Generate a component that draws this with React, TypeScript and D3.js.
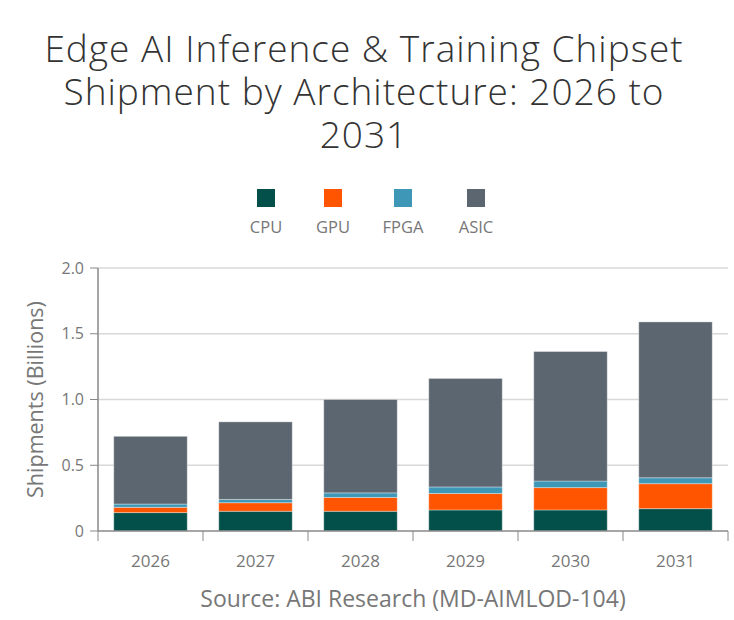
import React from 'react';
import * as d3 from 'd3';

const years = ['2026', '2027', '2028', '2029', '2030', '2031'];
const seriesNames = ['CPU', 'GPU', 'FPGA', 'ASIC'];
const cpu = [0.14, 0.15, 0.15, 0.16, 0.16, 0.17];
const gpu = [0.04, 0.065, 0.105, 0.125, 0.17, 0.19];
const fpga = [0.025, 0.025, 0.035, 0.05, 0.05, 0.045];
const asic = [0.515, 0.59, 0.71, 0.825, 0.985, 1.185];
const yTicks = [0, 0.5, 1.0, 1.5, 2.0];
const colors = ['#03504a', '#ff5500', '#3f97b7', '#5c6670'];

const width = 734;
const height = 620;
const margin = { top: 268, right: 6, bottom: 89, left: 98 };
const font = '"Open Sans", "Segoe UI", sans-serif';
const grey = '#777';

const App = () => {
  const innerWidth = width - margin.left - margin.right;
  const innerHeight = height - margin.top - margin.bottom;

  const rows = years.map((year, i) => ({
    year,
    CPU: cpu[i],
    GPU: gpu[i],
    FPGA: fpga[i],
    ASIC: asic[i],
  }));
  const stacked = d3.stack().keys(seriesNames)(rows);

  const xScale = d3.scaleBand()
    .domain(years)
    .range([0, innerWidth])
    .paddingInner(0.3)
    .paddingOuter(0.15);

  const yScale = d3.scaleLinear()
    .domain([0, 2])
    .range([innerHeight, 0]);

  // category separators on the x axis
  const boundaries = years.map((_, i) => xScale.step() * i).concat([innerWidth]);

  const titleLines = ['Edge AI Inference & Training Chipset', 'Shipment by Architecture: 2026 to', '2031'];
  const legendX = [266, 333, 403, 476];

  return (
    <svg width={width} height={height} style={{ position: 'absolute', left: 0, top: 0, fontFamily: font }}>
      <rect width={width} height={height} fill="#fff" />
      {titleLines.map((line, i) => (
        <text
          key={line}
          x={364}
          y={62 + i * 43}
          textAnchor="middle"
          fontSize={37}
          fontWeight={300}
          letterSpacing={1}
          fill="#333"
        >
          {line}
        </text>
      ))}

      {seriesNames.map((name, i) => (
        <g key={name} transform={`translate(${legendX[i]}, 0)`}>
          <rect x={-9} y={189} width={18} height={18} fill={colors[i]} />
          <text y={233} textAnchor="middle" fontSize={16.5} fill={grey}>{name}</text>
        </g>
      ))}

      <g transform={`translate(${margin.left}, ${margin.top})`}>
        {yTicks.map(tick => (
          <g key={tick} transform={`translate(0, ${yScale(tick)})`}>
            {tick > 0 && <line x2={innerWidth} stroke="#d8d8d8" strokeWidth={1.5} />}
            <line x1={-8} x2={0} stroke="#888" />
            <text x={-14} dy="0.35em" textAnchor="end" fontSize={16} fill={grey}>
              {tick === 0 ? '0' : tick.toFixed(1)}
            </text>
          </g>
        ))}

        {stacked.map((series, si) => (
          <g key={series.key} fill={colors[si]}>
            {series.map((d, i) => (
              <rect
                key={years[i]}
                x={xScale(years[i])}
                y={yScale(d[1])}
                width={xScale.bandwidth()}
                height={yScale(d[0]) - yScale(d[1])}
                stroke="#ffffff"
                strokeOpacity={0.35}
                strokeWidth={1}
              />
            ))}
          </g>
        ))}

        <line y1={0} y2={innerHeight} stroke="#888" strokeWidth={1.5} />
        <line x1={0} x2={innerWidth} y1={innerHeight} y2={innerHeight} stroke="#888" strokeWidth={1.5} />
        {boundaries.map(b => (
          <line key={b} x1={b} x2={b} y1={innerHeight} y2={innerHeight + 10} stroke="#888" />
        ))}
        {years.map(year => (
          <text
            key={year}
            x={(xScale(year) || 0) + xScale.bandwidth() / 2}
            y={innerHeight + 36}
            textAnchor="middle"
            fontSize={17}
            fill={grey}
          >
            {year}
          </text>
        ))}

        <text x={innerWidth / 2} y={innerHeight + 76} textAnchor="middle" fontSize={23} fill={grey}>
          Source: ABI Research (MD-AIMLOD-104)
        </text>
      </g>

      <text
        transform={`translate(43, ${margin.top + innerHeight / 2}) rotate(-90)`}
        textAnchor="middle"
        fontSize={21.5}
        fill={grey}
      >
        Shipments (Billions)
      </text>
    </svg>
  );
};

export default App;
